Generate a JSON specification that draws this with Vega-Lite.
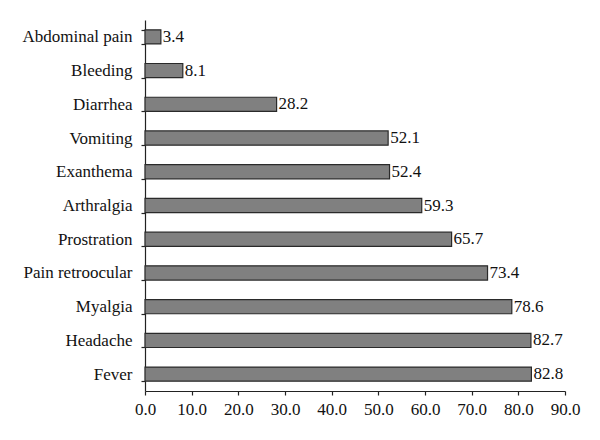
{
  "$schema": "https://vega.github.io/schema/vega-lite/v6.json",
  "width": 420,
  "height": 371,
  "autosize": {"type": "none"},
  "padding": {"left": 145, "top": 20, "right": 35, "bottom": 49},
  "background": "white",
  "config": {
    "view": {"stroke": null},
    "font": "Liberation Serif",
    "axis": {"domainColor": "#222", "tickColor": "#222", "labelColor": "#111", "labelFont": "Liberation Serif", "labelFontSize": 17, "grid": false, "title": null, "tickSize": 4, "domainWidth": 1.2, "tickWidth": 1.2}
  },
  "data": {
    "values": [
      {"symptom": "Abdominal pain", "value": 3.4},
      {"symptom": "Bleeding", "value": 8.1},
      {"symptom": "Diarrhea", "value": 28.2},
      {"symptom": "Vomiting", "value": 52.1},
      {"symptom": "Exanthema", "value": 52.4},
      {"symptom": "Arthralgia", "value": 59.3},
      {"symptom": "Prostration", "value": 65.7},
      {"symptom": "Pain retroocular", "value": 73.4},
      {"symptom": "Myalgia", "value": 78.6},
      {"symptom": "Headache", "value": 82.7},
      {"symptom": "Fever", "value": 82.8}
    ]
  },
  "encoding": {
    "y": {"field": "symptom", "type": "nominal", "sort": null,
      "scale": {"paddingInner": 0.58, "paddingOuter": 0.29},
      "axis": {"tickBand": "extent", "labelPadding": 9, "labelLimit": 200}},
    "x": {"field": "value", "type": "quantitative",
      "scale": {"domain": [0, 90], "nice": false},
      "axis": {"values": [0,10,20,30,40,50,60,70,80,90], "format": ".1f", "labelPadding": 6, "labelFlush": false}}
  },
  "layer": [
    {"mark": {"type": "bar", "fill": "#808080", "stroke": "#2a2a2a", "strokeWidth": 1.2}},
    {"mark": {"type": "text", "align": "left", "baseline": "middle", "dx": 2, "fontSize": 17, "font": "Liberation Serif", "color": "#111"},
     "encoding": {"text": {"field": "value", "type": "quantitative", "format": ".1f"}}}
  ]
}
